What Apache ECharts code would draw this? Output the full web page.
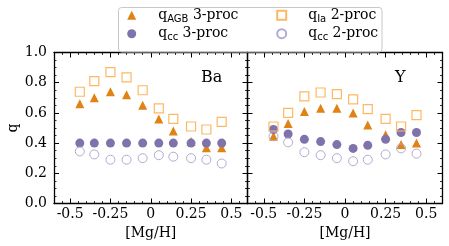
<!DOCTYPE html>
<html>
<head>
<meta charset="utf-8">
<script src="https://cdn.jsdelivr.net/npm/echarts@6/dist/echarts.min.js"></script>
<style>
html,body{margin:0;padding:0;background:#fff;}
#c{width:449px;height:246px;}
</style>
</head>
<body>
<div id="c"></div>
<script>
// ---- data ----
const mgH = [-0.44, -0.35, -0.25, -0.15, -0.05, 0.05, 0.14, 0.25, 0.345, 0.44];

const agbBa = [0.66, 0.70, 0.74, 0.72, 0.65, 0.56, 0.48, 0.41, 0.37, 0.37];
const cc3Ba = [0.40, 0.40, 0.40, 0.40, 0.40, 0.40, 0.40, 0.40, 0.40, 0.40];
const ia2Ba = [0.74, 0.81, 0.87, 0.835, 0.75, 0.63, 0.56, 0.51, 0.49, 0.54];
const cc2Ba = [0.345, 0.325, 0.29, 0.29, 0.30, 0.32, 0.31, 0.30, 0.29, 0.265];

const agbY = [0.445, 0.53, 0.61, 0.63, 0.63, 0.60, 0.52, 0.455, 0.39, 0.40];
const cc3Y = [0.49, 0.46, 0.425, 0.41, 0.39, 0.365, 0.385, 0.425, 0.47, 0.47];
const ia2Y = [0.51, 0.60, 0.71, 0.735, 0.725, 0.69, 0.625, 0.56, 0.51, 0.585];
const cc2Y = [0.445, 0.405, 0.34, 0.32, 0.30, 0.28, 0.29, 0.325, 0.365, 0.33];

const xTicks = [-0.5, -0.25, 0, 0.25, 0.5];
const xTickLabels = ['-0.5', '-0.25', '0', '0.25', '0.5'];
const panelLabels = ['Ba', 'Y'];
const seriesNames = ['qAGB 3-proc', 'qcc 3-proc', 'qIa 2-proc', 'qcc 2-proc'];
const legendRich = {
  'qAGB 3-proc': '{q|q}{s|AGB}{m| 3-proc}',
  'qcc 3-proc': '{q|q}{s|cc}{m| 3-proc}',
  'qIa 2-proc': '{q|q}{s|Ia}{m| 2-proc}',
  'qcc 2-proc': '{q|q}{s|cc}{m| 2-proc}'
};

// ---- styling ----
const SERIF = 'DejaVu Serif';
const C_AGB = '#e08214', C_IA = '#fdb863', C_CC3 = '#8073ac', C_CC2 = '#b2abd2';
const MS = 9;

const grids = [
  {left: 54, top: 52.5, width: 193.5, height: 151},
  {left: 247.5, top: 52.5, width: 195, height: 151}
];

function pts(ys) { return mgH.map((x, i) => [x, ys[i]]); }

const xAxis = [], yAxis = [];
grids.forEach((g, gi) => {
  const base = {type: 'value', gridIndex: gi, min: -0.6, max: 0.6, splitLine: {show: false}};
  // bottom major
  xAxis.push(Object.assign({}, base, {
    position: 'bottom',
    axisLine: {show: true, onZero: false, lineStyle: {color: '#000', width: 1.3}},
    axisTick: {show: true, inside: true, length: 5, customValues: xTicks, lineStyle: {color: '#000', width: 1}},
    axisLabel: {show: true, customValues: xTicks, margin: 4, color: '#000', fontFamily: SERIF, fontSize: 14,
      formatter: v => { const k = xTicks.findIndex(t => Math.abs(t - v) < 1e-9); return k >= 0 ? xTickLabels[k] : ''; }},
    name: '[Mg/H]', nameLocation: 'middle', nameGap: 16,
    nameTextStyle: {color: '#000', fontFamily: SERIF, fontSize: 14, verticalAlign: 'top'}
  }));
  // bottom minor
  xAxis.push(Object.assign({}, base, {
    position: 'bottom', interval: 0.05,
    axisLine: {show: false, onZero: false},
    axisTick: {show: true, inside: true, length: 2.5, lineStyle: {color: '#000', width: 0.8}},
    axisLabel: {show: false}
  }));
  // top major
  xAxis.push(Object.assign({}, base, {
    position: 'top',
    axisLine: {show: true, onZero: false, lineStyle: {color: '#000', width: 1.3}},
    axisTick: {show: true, inside: true, length: 5, customValues: xTicks, lineStyle: {color: '#000', width: 1}},
    axisLabel: {show: false}
  }));
  // top minor
  xAxis.push(Object.assign({}, base, {
    position: 'top', interval: 0.05,
    axisLine: {show: false, onZero: false},
    axisTick: {show: true, inside: true, length: 2.5, lineStyle: {color: '#000', width: 0.8}},
    axisLabel: {show: false}
  }));
  ['left', 'right'].forEach(pos => {
    const withLabels = gi === 0 && pos === 'left';
    yAxis.push({
      type: 'value', gridIndex: gi, position: pos, min: 0, max: 1, interval: 0.2,
      splitLine: {show: false},
      axisLine: {show: true, onZero: false, lineStyle: {color: '#000', width: 1.3}},
      axisTick: {show: true, inside: true, length: 5, lineStyle: {color: '#000', width: 1}},
      minorTick: {show: true, splitNumber: 4, length: 2.5, lineStyle: {color: '#000', width: 0.8}},
      minorSplitLine: {show: false},
      axisLabel: {show: withLabels, margin: 7, color: '#000', fontFamily: SERIF, fontSize: 14,
        formatter: v => v.toFixed(1)},
      name: withLabels ? 'q' : '', nameLocation: 'middle', nameGap: 34,
      nameTextStyle: {color: '#000', fontFamily: SERIF, fontSize: 14}
    });
  });
});

const panelData = [
  [agbBa, cc3Ba, ia2Ba, cc2Ba],
  [agbY, cc3Y, ia2Y, cc2Y]
];
const styles = [
  {symbol: 'triangle', itemStyle: {color: C_AGB}},
  {symbol: 'circle', itemStyle: {color: C_CC3}},
  {symbol: 'rect', itemStyle: {color: 'rgba(255,255,255,0)', borderColor: C_IA, borderWidth: 1.2}},
  {symbol: 'circle', itemStyle: {color: 'rgba(255,255,255,0)', borderColor: C_CC2, borderWidth: 1}}
];
const series = [];
panelData.forEach((arrs, gi) => {
  arrs.forEach((ys, si) => {
    series.push({
      type: 'scatter', name: seriesNames[si],
      xAxisIndex: gi * 4, yAxisIndex: gi * 2,
      symbol: styles[si].symbol, symbolSize: MS,
      itemStyle: Object.assign({opacity: 1}, styles[si].itemStyle),
      emphasis: {disabled: true},
      data: pts(ys), z: 2 + si
    });
  });
});

const legendText = {
  color: '#000',
  rich: {
    q: {fontFamily: SERIF, fontSize: 14, lineHeight: 18, padding: [0, 0, 0, 17], color: '#000'},
    m: {fontFamily: SERIF, fontSize: 14, lineHeight: 18, color: '#000'},
    s: {fontFamily: 'DejaVu Sans', fontSize: 10, lineHeight: 10, verticalAlign: 'bottom', color: '#000'}
  }
};
function mkLegend(left, names) {
  return {
    left: left, top: 8.3, orient: 'vertical', padding: 0, itemGap: 2.4, z: 20,
    itemWidth: MS, itemHeight: MS, data: names, selectedMode: false,
    formatter: n => legendRich[n], textStyle: legendText
  };
}

const option = {
  animation: false,
  backgroundColor: '#fff',
  grid: grids,
  xAxis: xAxis,
  yAxis: yAxis,
  series: series,
  legend: [mkLegend(127.2, [seriesNames[0], seriesNames[1]]), mkLegend(276.2, [seriesNames[2], seriesNames[3]])],
  graphic: {
    elements: [
      {type: 'rect', left: 116, top: 5, z: 5, silent: true,
        shape: {width: 263.5, height: 44.5, r: 3},
        style: {fill: 'none', stroke: '#c8c8c8', lineWidth: 1}},
      {type: 'text', x: 201, y: 77.5, z: 10, style: {text: panelLabels[0], fontFamily: SERIF, fontSize: 16, fill: '#000', verticalAlign: 'middle'}},
      {type: 'text', x: 395, y: 77.5, z: 10, style: {text: panelLabels[1], fontFamily: SERIF, fontSize: 16, fill: '#000', verticalAlign: 'middle'}}
    ]
  }
};

const chart = echarts.init(document.getElementById('c'), null, {renderer: 'canvas'});
chart.setOption(option);
</script>
</body>
</html>
